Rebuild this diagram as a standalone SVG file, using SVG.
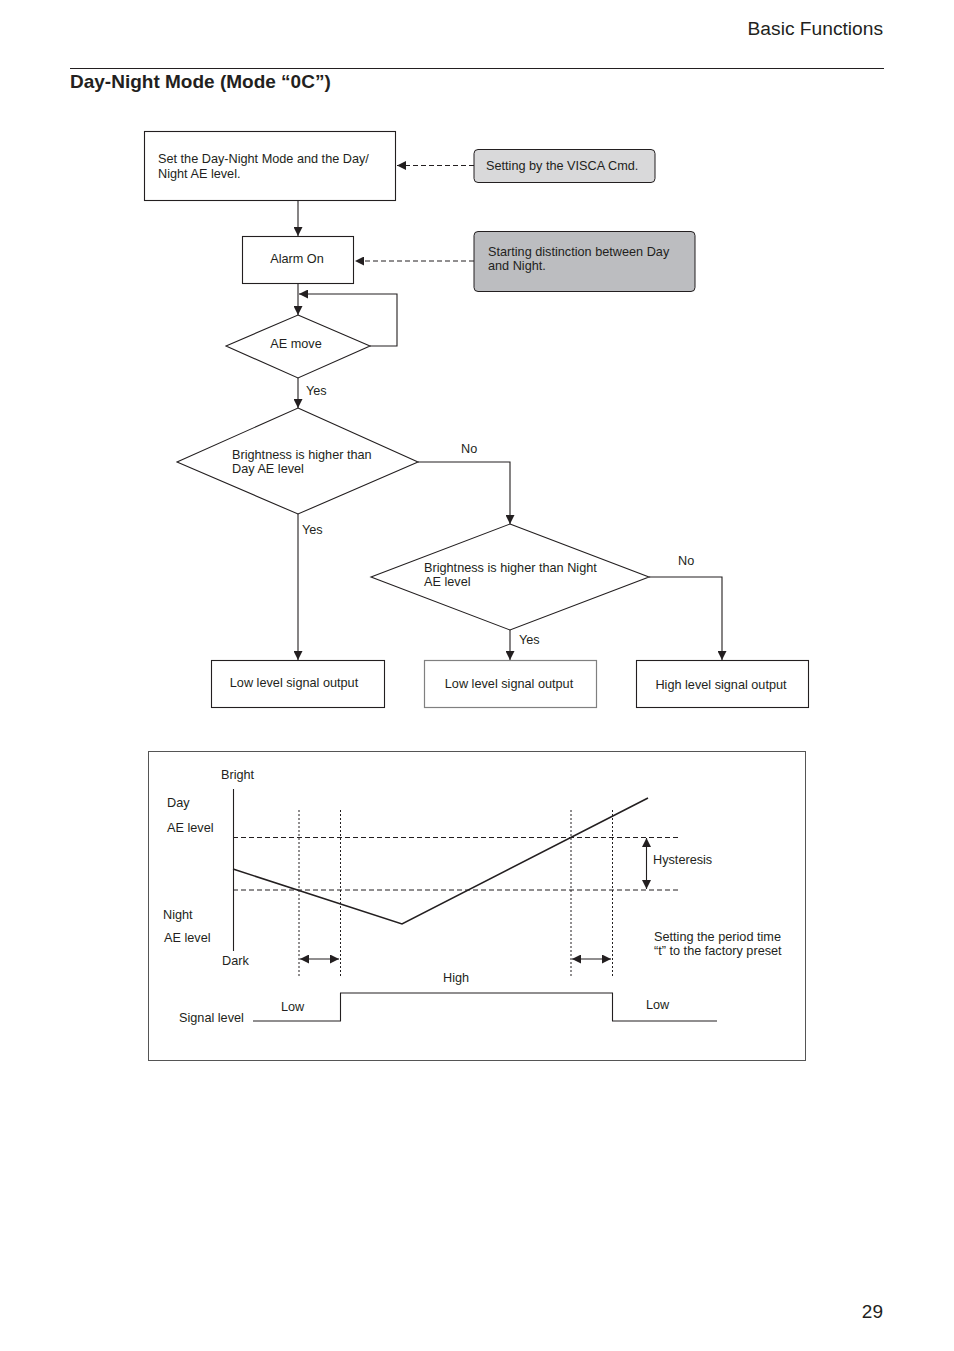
<svg xmlns="http://www.w3.org/2000/svg" width="954" height="1351" viewBox="0 0 954 1351">
<style>
text{font-family:"Liberation Sans",Arial,sans-serif;fill:#231f20}
.t{font-size:12.7px}
.box{fill:#fff;stroke:#231f20;stroke-width:1.1}
.ln{fill:none;stroke:#231f20;stroke-width:1.1}
.dash{fill:none;stroke:#231f20;stroke-width:1;stroke-dasharray:5 3}
.dot{fill:none;stroke:#231f20;stroke-width:1;stroke-dasharray:2 2}
</style>
<defs>
<marker id="ah" viewBox="0 0 10 10" refX="10" refY="5" markerWidth="9" markerHeight="9" markerUnits="userSpaceOnUse" orient="auto-start-reverse"><path d="M0,0L10,5L0,10z" fill="#231f20"/></marker>
</defs>
<rect width="954" height="1351" fill="#fff"/>
<g id="header">
<text x="883" y="35" font-size="19.2" text-anchor="end">Basic Functions</text>
<line x1="70" y1="68.5" x2="884" y2="68.5" stroke="#231f20" stroke-width="1"/>
<text x="70" y="88" font-size="19" font-weight="bold">Day-Night Mode (Mode “0C”)</text>
</g>
<g id="connectors">
<line class="dash" x1="474" y1="165.5" x2="397" y2="165.5" marker-end="url(#ah)"/>
<line class="dash" x1="474" y1="261" x2="355" y2="261" marker-end="url(#ah)"/>
<line class="ln" x1="298" y1="200" x2="298" y2="236" marker-end="url(#ah)"/>
<line class="ln" x1="298" y1="283" x2="298" y2="315" marker-end="url(#ah)"/>
<polyline class="ln" points="370,346 397,346 397,294 299,294" marker-end="url(#ah)"/>
<line class="ln" x1="298" y1="378" x2="298" y2="408" marker-end="url(#ah)"/>
<polyline class="ln" points="418,462 510,462 510,524" marker-end="url(#ah)"/>
<line class="ln" x1="298" y1="514" x2="298" y2="660" marker-end="url(#ah)"/>
<polyline class="ln" points="649,577 722,577 722,660" marker-end="url(#ah)"/>
<line class="ln" x1="510" y1="630" x2="510" y2="660" marker-end="url(#ah)"/>
<text class="t" x="306" y="395">Yes</text>
<text class="t" x="461" y="453">No</text>
<text class="t" x="302" y="534">Yes</text>
<text class="t" x="678" y="565">No</text>
<text class="t" x="519" y="644">Yes</text>
</g>
<g id="set-mode">
<rect class="box" x="144.5" y="131.5" width="251" height="69"/>
<text class="t" x="158" y="163">Set the Day-Night Mode and the Day/</text>
<text class="t" x="158" y="178">Night AE level.</text>
</g>
<g id="visca">
<rect x="474" y="149.5" width="181" height="33" rx="4" fill="#d9d9da" stroke="#231f20" stroke-width="1"/>
<text class="t" x="486" y="170">Setting by the VISCA Cmd.</text>
</g>
<g id="alarm-on">
<rect class="box" x="242.5" y="236.5" width="111" height="47"/>
<text class="t" x="297" y="263" text-anchor="middle">Alarm On</text>
</g>
<g id="starting">
<rect x="474" y="231.5" width="221" height="60" rx="4" fill="#bcbdc0" stroke="#231f20" stroke-width="1"/>
<text class="t" x="488" y="256">Starting distinction between Day</text>
<text class="t" x="488" y="270">and Night.</text>
</g>
<g id="ae-move">
<polygon class="box" points="298,315 370,346 298,378 226,346"/>
<text class="t" x="296" y="348" text-anchor="middle">AE move</text>
</g>
<g id="day-check">
<polygon class="box" points="298,408 418,462 298,514 177,462"/>
<text class="t" x="232" y="459">Brightness is higher than</text>
<text class="t" x="232" y="473">Day AE level</text>
</g>
<g id="night-check">
<polygon class="box" points="510,524 649,577 510,630 371,577"/>
<text class="t" x="424" y="572">Brightness is higher than Night</text>
<text class="t" x="424" y="586">AE level</text>
</g>
<g id="low1">
<rect class="box" x="211.5" y="660.5" width="173" height="47"/>
<text class="t" x="294" y="687" text-anchor="middle">Low level signal output</text>
</g>
<g id="low2">
<rect x="424.5" y="660.5" width="172" height="47" fill="#fff" stroke="#808080" stroke-width="1.2"/>
<text class="t" x="509" y="688" text-anchor="middle">Low level signal output</text>
</g>
<g id="high">
<rect class="box" x="636.5" y="660.5" width="172" height="47"/>
<text class="t" x="721" y="689" text-anchor="middle">High level signal output</text>
</g>
<g id="chart">
<rect x="148.5" y="751.5" width="657" height="309" fill="#fff" stroke="#555" stroke-width="1"/>
<text class="t" x="221" y="779">Bright</text>
<text class="t" x="167" y="807">Day</text>
<text class="t" x="167" y="832">AE level</text>
<text class="t" x="163" y="919">Night</text>
<text class="t" x="164" y="942">AE level</text>
<text class="t" x="222" y="965">Dark</text>
<line class="ln" x1="233.5" y1="789" x2="233.5" y2="951"/>
<line class="dash" x1="233" y1="837.5" x2="681" y2="837.5"/>
<line class="dash" x1="233" y1="890" x2="681" y2="890"/>
<line class="dot" x1="299" y1="810" x2="299" y2="977"/>
<line class="dot" x1="340.5" y1="810" x2="340.5" y2="977"/>
<line class="dot" x1="571" y1="810" x2="571" y2="977"/>
<line class="dot" x1="612.5" y1="810" x2="612.5" y2="977"/>
<polyline points="233,869 402,924 648,798" fill="none" stroke="#231f20" stroke-width="1.6"/>
<line class="ln" x1="646.5" y1="838" x2="646.5" y2="889" marker-start="url(#ah)" marker-end="url(#ah)"/>
<text class="t" x="653" y="864">Hysteresis</text>
<line class="ln" x1="300" y1="959" x2="339" y2="959" marker-start="url(#ah)" marker-end="url(#ah)"/>
<line class="ln" x1="572" y1="959" x2="611" y2="959" marker-start="url(#ah)" marker-end="url(#ah)"/>
<text class="t" x="654" y="941">Setting the period time</text>
<text class="t" x="654" y="955">“t” to the factory preset</text>
<text class="t" x="443" y="982">High</text>
<text class="t" x="281" y="1011">Low</text>
<text class="t" x="646" y="1009">Low</text>
<text class="t" x="179" y="1022">Signal level</text>
<polyline class="ln" points="253,1021 340.5,1021 340.5,993 612.5,993 612.5,1021 717,1021"/>
</g>
<text x="883" y="1318" font-size="19" text-anchor="end">29</text>
</svg>
